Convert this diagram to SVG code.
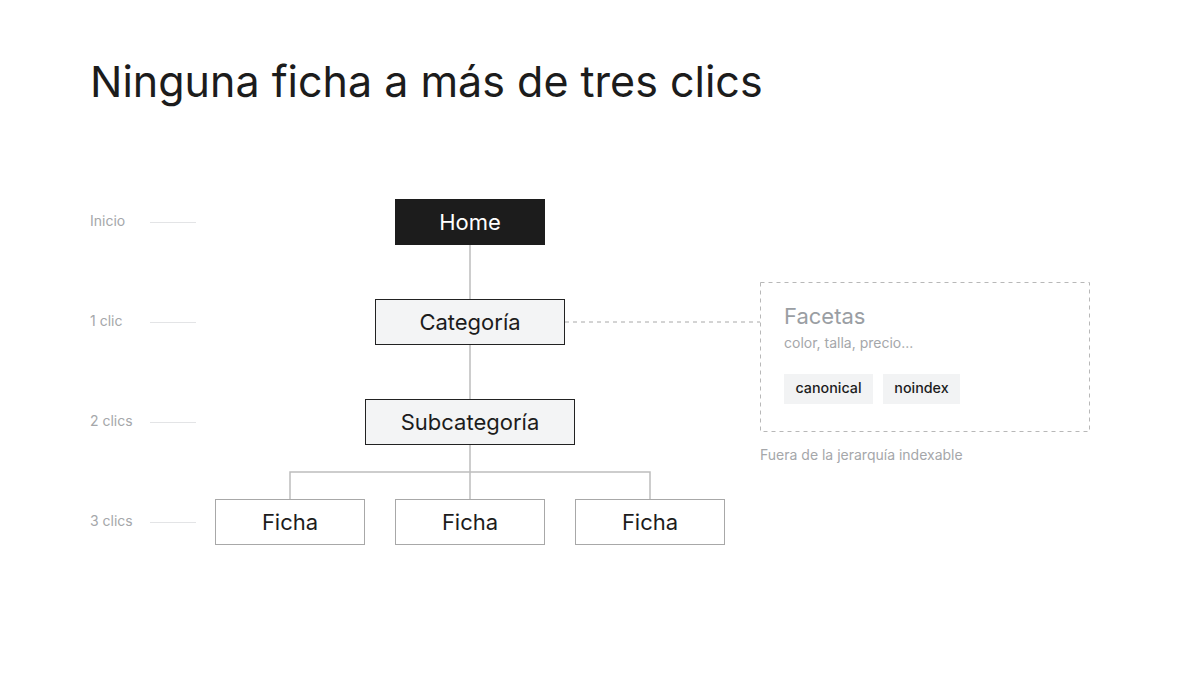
<svg xmlns="http://www.w3.org/2000/svg" width="1200" height="675" viewBox="0 0 1200 675">
<style>
text{font-family:Inter,"Noto Sans","Liberation Sans",sans-serif}
.lvl{font-size:14px;fill:#a5a7aa}
.tick{stroke:#e3e4e6;stroke-width:1}
.conn{stroke:#bdbdbd;stroke-width:1.5;fill:none}
.node{fill:#f3f4f5;stroke:#222;stroke-width:1}
.leaf{fill:#fff;stroke:#a8a8a8;stroke-width:1}
.lbl{font-size:22px;fill:#1c1c1c;text-anchor:middle}
.chip{fill:#f2f3f4}
.chipt{font-size:14.3px;font-weight:500;fill:#1c1c1c;text-anchor:middle}
</style>
<rect width="1200" height="675" fill="#fff"/>
<text x="90" y="97" font-size="43" fill="#1c1c1c">Ninguna ficha a más de tres clics</text>
<g id="levels">
<text class="lvl" x="90" y="226">Inicio</text>
<text class="lvl" x="90" y="326">1 clic</text>
<text class="lvl" x="90" y="426">2 clics</text>
<text class="lvl" x="90" y="526">3 clics</text>
<line class="tick" x1="150" y1="222.5" x2="196" y2="222.5"/>
<line class="tick" x1="150" y1="322.5" x2="196" y2="322.5"/>
<line class="tick" x1="150" y1="422.5" x2="196" y2="422.5"/>
<line class="tick" x1="150" y1="522.5" x2="196" y2="522.5"/>
</g>
<g id="connectors">
<line class="conn" x1="470" y1="245" x2="470" y2="299"/>
<line class="conn" x1="470" y1="345" x2="470" y2="399"/>
<line class="conn" x1="470" y1="445" x2="470" y2="499"/>
<polyline class="conn" points="290,499 290,472 650,472 650,499"/>
<line x1="565" y1="322" x2="760" y2="322" stroke="#a8a8a8" stroke-width="1" stroke-dasharray="4 4"/>
</g>
<g id="home">
<rect x="395" y="199" width="150" height="46" fill="#1c1c1c"/>
<text class="lbl" x="470" y="230" style="fill:#fff">Home</text>
</g>
<g id="categoria">
<rect class="node" x="375.5" y="299.5" width="189" height="45"/>
<text class="lbl" x="470" y="330">Categoría</text>
</g>
<g id="subcategoria">
<rect class="node" x="365.5" y="399.5" width="209" height="45"/>
<text class="lbl" x="470" y="430">Subcategoría</text>
</g>
<g id="ficha1">
<rect class="leaf" x="215.5" y="499.5" width="149" height="45"/>
<text class="lbl" x="290" y="530">Ficha</text>
</g>
<g id="ficha2">
<rect class="leaf" x="395.5" y="499.5" width="149" height="45"/>
<text class="lbl" x="470" y="530">Ficha</text>
</g>
<g id="ficha3">
<rect class="leaf" x="575.5" y="499.5" width="149" height="45"/>
<text class="lbl" x="650" y="530">Ficha</text>
</g>
<g id="facetas">
<rect x="760.5" y="282.5" width="329" height="149" fill="none" stroke="#b8b8b8" stroke-width="1" stroke-dasharray="4 4"/>
<text x="784" y="324" font-size="22" fill="#9a9ea3">Facetas</text>
<text x="784" y="348" font-size="14" fill="#a5a7aa">color, talla, precio...</text>
<rect class="chip" x="784" y="374" width="89" height="30"/>
<text class="chipt" x="828.5" y="393">canonical</text>
<rect class="chip" x="883" y="374" width="77" height="30"/>
<text class="chipt" x="921.5" y="393">noindex</text>
<text x="760" y="460" font-size="14" fill="#a5a7aa">Fuera de la jerarquía indexable</text>
</g>
</svg>
